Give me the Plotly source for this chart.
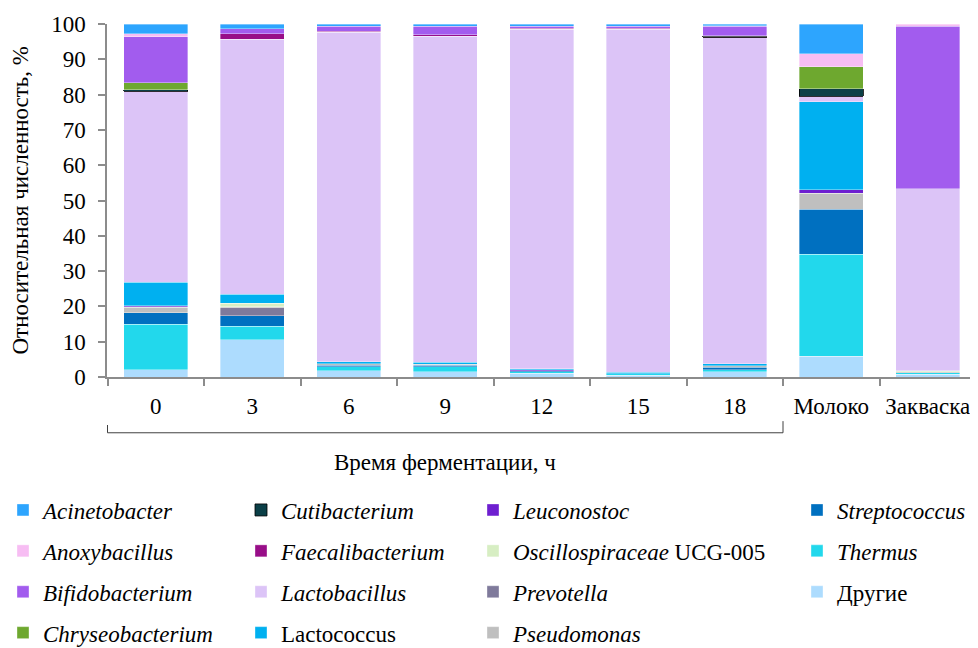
import plotly.graph_objects as go

categories = ["0", "3", "6", "9", "12", "15", "18", "Молоко", "Закваска"]

# series values (% relative abundance), per category
drugie = [2.0, 10.5, 1.8, 1.5, 1.0, 0.5, 1.5, 5.9, 0.8]
thermus = [12.9, 3.9, 1.1, 1.4, 0.5, 0.4, 0.6, 28.9, 0.4]
streptococcus = [3.3, 2.9, 0.4, 0.4, 0.3, 0, 0.6, 12.7, 0]
prevotella = [0, 2.3, 0, 0, 0, 0, 0, 0, 0]
pseudomonas = [1.5, 0.3, 0.5, 0.3, 0, 0, 0.5, 4.5, 0.3]
oscillospiraceae = [0.2, 1.0, 0, 0, 0, 0, 0, 0, 0.3]
leuconostoc = [0.3, 0, 0, 0, 0.3, 0, 0, 1.0, 0]
lactococcus = [6.7, 2.6, 0.5, 0.6, 0.3, 0.5, 0.5, 25.0, 0]
lactobacillus = [54.0, 72.2, 93.4, 92.3, 96.1, 97.1, 92.4, 1.6, 51.6]
faecalibacterium = [0, 1.5, 0.3, 0.4, 0.3, 0.3, 0.2, 0, 0]
cutibacterium = [0.5, 0, 0, 0, 0, 0, 0.2, 2.0, 0]
chryseobacterium = [2.0, 0, 0, 0, 0, 0, 0.2, 6.3, 0]
bifidobacterium = [13.0, 1.4, 1.4, 2.4, 0.6, 0.6, 2.6, 0, 46.0]
anoxybacillus = [0.8, 0, 0, 0, 0, 0, 0.2, 3.7, 0.6]
acinetobacter = [2.8, 1.4, 0.6, 0.7, 0.6, 0.6, 0.5, 8.4, 0]

yticks = [0, 10, 20, 30, 40, 50, 60, 70, 80, 90, 100]

FONT = "Liberation Serif"
FS = 23

# (name, values, color, legend id, rank) -- listed bottom of stack first
series = [
    ("Другие", drugie, "#ADDCFE", "legend4", 15),
    ("<i>Thermus</i>", thermus, "#22D8EC", "legend4", 14),
    ("<i>Streptococcus</i>", streptococcus, "#0070C0", "legend4", 13),
    ("<i>Prevotella</i>", prevotella, "#7F7A9B", "legend3", 11),
    ("<i>Pseudomonas</i>", pseudomonas, "#BFBFBF", "legend3", 12),
    ("<i>Oscillospiraceae</i> UCG-005", oscillospiraceae, "#D7EEC3", "legend3", 10),
    ("<i>Leuconostoc</i>", leuconostoc, "#6E1FD0", "legend3", 9),
    ("Lactococcus", lactococcus, "#00B0F0", "legend2", 8),
    ("<i>Lactobacillus</i>", lactobacillus, "#DCC4F7", "legend2", 7),
    ("<i>Faecalibacterium</i>", faecalibacterium, "#980E88", "legend2", 6),
    ("<i>Cutibacterium</i>", cutibacterium, "#0B3F47", "legend2", 5),
    ("<i>Chryseobacterium</i>", chryseobacterium, "#6EA82F", "legend", 4),
    ("<i>Bifidobacterium</i>", bifidobacterium, "#A25CEE", "legend", 3),
    ("<i>Anoxybacillus</i>", anoxybacillus, "#F7BDF3", "legend", 2),
    ("<i>Acinetobacter</i>", acinetobacter, "#2DA5FE", "legend", 1),
]

fig = go.Figure()
for name, vals, color, leg, rank in series:
    line_color = "#000000" if "Cutibacterium" in name else "rgba(255,255,255,0.45)"
    fig.add_trace(go.Bar(
        x=categories,
        y=[v if v else None for v in vals],
        name=name,
        marker=dict(color=color, line=dict(color=line_color, width=0.8)),
        legend=leg,
        legendrank=rank,
        legendgroup=name,
    ))

W, H = 970, 640  # page body has an 8px margin; figure fills the rest
ML, MR, MT, MB = 99, 2, 16, 271
PW = W - ML - MR
PH = H - MT - MB


def px_x(p):
    return (p - ML) / PW


def px_y(p):
    return (H - MB - p) / PH


legend_common = dict(
    orientation="v",
    xref="paper", yref="paper",
    xanchor="left", yanchor="top",
    font=dict(family=FONT, size=FS, color="#000000"),
    bgcolor="rgba(0,0,0,0)",
    traceorder="grouped",
    tracegroupgap=8,
    itemclick=False, itemdoubleclick=False,
)
legend_top = px_y(480.5)

fig.update_layout(
    width=W, height=H,
    barmode="stack",
    bargap=0.34,
    plot_bgcolor="white",
    paper_bgcolor="white",
    margin=dict(l=ML, r=MR, t=MT, b=MB, autoexpand=False),
    font=dict(family=FONT, size=FS, color="#000000"),
    legend=dict(legend_common, x=px_x(-5), y=legend_top),
    legend2=dict(legend_common, x=px_x(233), y=legend_top),
    legend3=dict(legend_common, x=px_x(465), y=legend_top),
    legend4=dict(legend_common, x=px_x(789), y=legend_top),
    xaxis=dict(
        type="category",
        showline=True, linecolor="#8C8C8C", linewidth=1.5,
        ticks="outside", tickson="boundaries", ticklen=7, tickwidth=1.5, tickcolor="#8C8C8C",
        ticklabelstandoff=8,
        tickfont=dict(family=FONT, size=FS),
        showgrid=False,
    ),
    yaxis=dict(
        range=[0, 100],
        tickvals=yticks,
        showline=True, linecolor="#8C8C8C", linewidth=1.5,
        ticks="outside", ticklen=7, tickwidth=1.5, tickcolor="#8C8C8C",
        ticklabelstandoff=8,
        tickfont=dict(family=FONT, size=FS),
        showgrid=False, zeroline=False,
    ),
)

# y-axis title
fig.add_annotation(text="Относительная численность, %", xref="paper", yref="paper",
                   x=px_x(12), y=0.5, textangle=-90, showarrow=False,
                   font=dict(family=FONT, size=FS), xanchor="center", yanchor="middle")

# bracket grouping fermentation time categories
bracket_y = -0.158
fig.add_shape(type="line", xref="x", yref="paper", x0=-0.5, x1=6.5, y0=bracket_y, y1=bracket_y,
              line=dict(color="#404040", width=1))
fig.add_shape(type="line", xref="x", yref="paper", x0=-0.5, x1=-0.5, y0=bracket_y, y1=-0.136,
              line=dict(color="#404040", width=1))
fig.add_shape(type="line", xref="x", yref="paper", x0=6.5, x1=6.5, y0=bracket_y, y1=-0.125,
              line=dict(color="#404040", width=1))
fig.add_annotation(text="Время ферментации, ч", xref="x", yref="paper", x=3, y=-0.241,
                   showarrow=False, font=dict(family=FONT, size=FS), yanchor="middle")

fig.write_html("out.html")
